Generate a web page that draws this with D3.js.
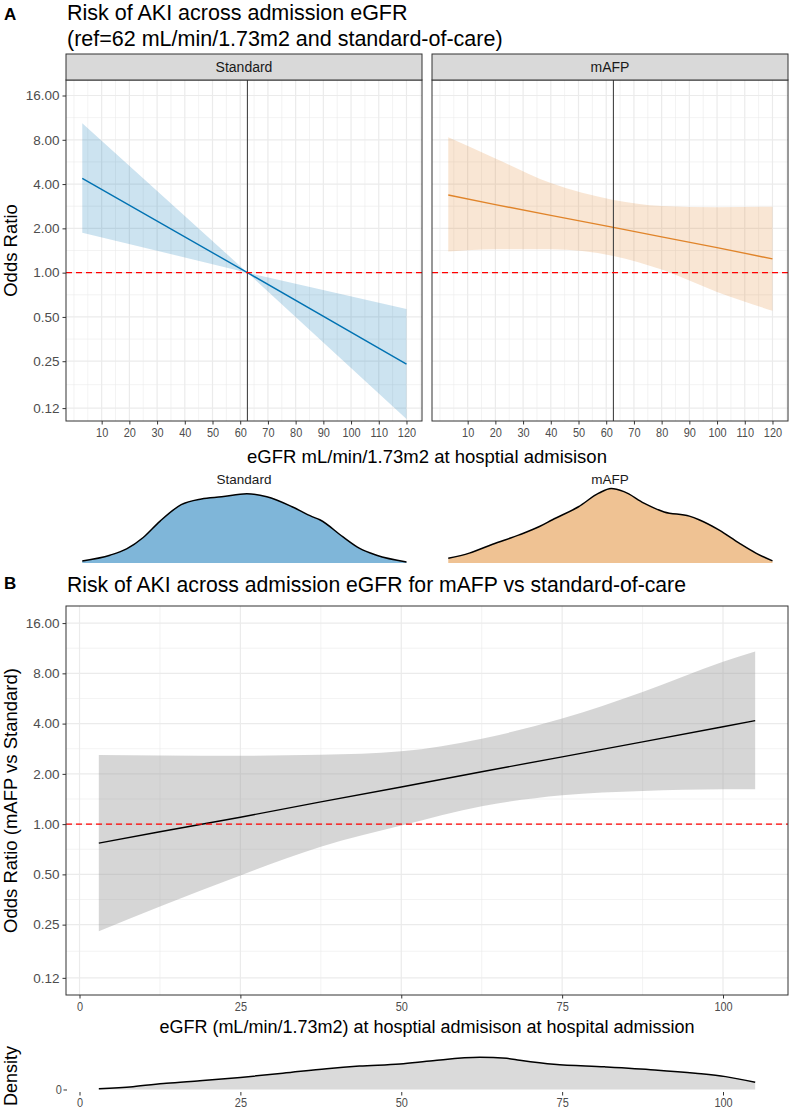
<!DOCTYPE html>
<html>
<head>
<meta charset="utf-8">
<script src="https://cdn.jsdelivr.net/npm/d3@7"></script>
<style>
body{margin:0;background:#fff;}
svg text{font-family:"Liberation Sans",Arial,Helvetica,sans-serif;}
</style>
</head>
<body>
<svg id="fig" width="790" height="1111"></svg>
<script>
// ---- data ----
var orBreaks = [0.12, 0.25, 0.5, 1, 2, 4, 8, 16];
var egfrBreaksA = [10,20,30,40,50,60,70,80,90,100,110,120];
var egfrBreaksB = [0,25,50,75,100];
var refEGFR = 62.6;

// A, standard of care (ref at 62)
var stdX  = [3, 62.6, 120];
var stdOR = [4.38, 1, 0.239];
var stdLo = [1.87, 1, 0.101];
var stdHi = [10.36, 1, 0.565];

// A, mAFP
var mafpX  = [3, 20, 40, 62.6, 80, 100, 120];
var mafpOR = [3.37, 2.90, 2.45, 2.03, 1.75, 1.48, 1.24];
var mafpLo = [1.39, 1.44, 1.44, 1.30, 1.05, 0.74, 0.55];
var mafpHi = [8.32, 5.98, 4.06, 3.12, 2.84, 2.78, 2.81];

// A, densities of eGFR
var stdDensX = [3, 13, 19, 25, 31, 38.7, 46, 53.3, 62.4, 69.6, 78.7, 85.9, 88.7, 97.1, 103.1, 109.2, 120];
var stdDens  = [0.0004, 0.0015, 0.0027, 0.0049, 0.0080, 0.0112, 0.0123, 0.0127, 0.0133, 0.0127, 0.0108, 0.0089, 0.0083, 0.0050, 0.0028, 0.0015, 0.0002];
var mafpDensX = [3, 10.6, 19, 28.6, 35.9, 40.6, 50, 57.3, 61.8, 66.4, 73.6, 80.9, 90, 93.5, 100.8, 108, 114, 120];
var mafpDens  = [0.0009, 0.0019, 0.0036, 0.0054, 0.0070, 0.0083, 0.0108, 0.0134, 0.0143, 0.0137, 0.0115, 0.0098, 0.0090, 0.0083, 0.0063, 0.0038, 0.0019, 0.0004];

// B, mAFP vs standard
var bX  = [3, 12.5, 25, 37.5, 50, 62.5, 75, 87.5, 100, 105];
var bOR = [0.77, 0.90, 1.10, 1.36, 1.67, 2.06, 2.53, 3.11, 3.83, 4.17];
var bLo = [0.228, 0.321, 0.493, 0.732, 0.98, 1.28, 1.49, 1.58, 1.62, 1.62];
var bHi = [2.59, 2.58, 2.57, 2.60, 2.73, 3.25, 4.29, 6.19, 9.38, 10.8];

// B, density of eGFR
var bDensX = [3, 8.3, 13.5, 18.7, 25, 31.6, 38.4, 43.5, 49.8, 54.9, 62.2, 66.4, 68.4, 73.7, 81.6, 89.4, 95.7, 100.4, 105];
var bDens  = [0.0003, 0.0011, 0.0024, 0.0034, 0.0047, 0.0063, 0.0081, 0.0091, 0.0099, 0.0112, 0.0125, 0.0121, 0.0114, 0.0098, 0.0088, 0.0076, 0.0063, 0.0050, 0.0028];

var blue = "#0072B2", orange = "#E0842A";
var gridCol = "#ebebeb", borderCol = "#333333", axisTxt = "#4d4d4d";

var svg = d3.select("#fig");

function rows(xs){
  var cols = Array.prototype.slice.call(arguments, 1);
  return xs.map(function(x, i){ return {x: x, v: cols.map(function(c){ return c[i]; })}; });
}

function logMinors(br){
  var out = [];
  for (var i = 1; i < br.length; i++) out.push(Math.sqrt(br[i-1]*br[i]));
  return out;
}

function grid(g, x, y, xMaj, xMin, x0, x1, y0, y1){
  var yMin = logMinors(orBreaks);
  g.selectAll(".gym").data(yMin).enter().append("line")
    .attr("x1", x0).attr("x2", x1).attr("y1", y).attr("y2", y)
    .attr("stroke", gridCol).attr("stroke-width", 0.6);
  g.selectAll(".gxm").data(xMin.filter(function(d){ var p = x(d); return p > x0 && p < x1; })).enter().append("line")
    .attr("y1", y0).attr("y2", y1).attr("x1", x).attr("x2", x)
    .attr("stroke", gridCol).attr("stroke-width", 0.6);
  g.selectAll(".gyM").data(orBreaks).enter().append("line")
    .attr("x1", x0).attr("x2", x1).attr("y1", y).attr("y2", y)
    .attr("stroke", gridCol).attr("stroke-width", 1.2);
  g.selectAll(".gxM").data(xMaj).enter().append("line")
    .attr("y1", y0).attr("y2", y1).attr("x1", x).attr("x2", x)
    .attr("stroke", gridCol).attr("stroke-width", 1.2);
}

function styleAxis(a, narrow){
  a.attr("font-size", 13.5).attr("font-family", null);
  a.select(".domain").remove();
  a.selectAll(".tick line").attr("stroke", borderCol);
  a.selectAll(".tick text").attr("fill", axisTxt).style("font-size", "13.5px");
  if (narrow) a.selectAll(".tick text").attr("transform", "scale(0.81,1)");
}

// ---- titles ----
svg.append("text").attr("x", 4).attr("y", 20).style("font-size", "17px").style("font-weight", "bold").text("A");
svg.append("text").attr("x", 67).attr("y", 20).style("font-size", "21.5px").attr("fill", "#000")
  .text("Risk of AKI across admission eGFR");
svg.append("text").attr("x", 67).attr("y", 45.5).style("font-size", "21.5px").attr("fill", "#000")
  .text("(ref=62 mL/min/1.73m2 and standard-of-care)");

// ---- panel A ----
var aTop = 80, aBot = 421;
var yA = d3.scaleLog().base(2).domain([Math.pow(2, -3.35), Math.pow(2, 4.35)]).range([aBot, aTop]);
var xMinorA = [0,5,15,25,35,45,55,65,75,85,95,105,115,125];

var facets = [
  {name: "Standard", x0: 66, x1: 422, line: blue, data: rows(stdX, stdOR, stdLo, stdHi), curve: d3.curveLinear,
   dens: rows(stdDensX, stdDens), densFill: "#7fb6d9"},
  {name: "mAFP", x0: 432, x1: 788, line: orange, data: rows(mafpX, mafpOR, mafpLo, mafpHi), curve: d3.curveMonotoneX,
   dens: rows(mafpDensX, mafpDens), densFill: "#efc293"}
];

var yDens = d3.scaleLinear().domain([0, 0.0143]).range([563, 488.5]);

facets.forEach(function(f, i){
  var x = d3.scaleLinear().domain([-2.87, 125.6]).range([f.x0, f.x1]);
  var g = svg.append("g");
  g.append("rect").attr("x", f.x0).attr("y", aTop).attr("width", f.x1 - f.x0).attr("height", aBot - aTop).attr("fill", "#fff");
  grid(g, x, yA, egfrBreaksA, xMinorA, f.x0, f.x1, aTop, aBot);

  var area = d3.area().curve(f.curve)
    .x(function(d){ return x(d.x); })
    .y0(function(d){ return yA(d.v[1]); })
    .y1(function(d){ return yA(d.v[2]); });
  g.append("path").datum(f.data).attr("d", area).attr("fill", f.line).attr("fill-opacity", 0.2);

  var line = d3.line().x(function(d){ return x(d.x); }).y(function(d){ return yA(d.v[0]); });
  g.append("path").datum(f.data).attr("d", line).attr("fill", "none").attr("stroke", f.line).attr("stroke-width", 1.4);

  g.append("line").attr("x1", x(refEGFR)).attr("x2", x(refEGFR)).attr("y1", aTop).attr("y2", aBot)
    .attr("stroke", "#444").attr("stroke-width", 1.1);
  g.append("line").attr("x1", f.x0).attr("x2", f.x1).attr("y1", yA(1)).attr("y2", yA(1))
    .attr("stroke", "#ff0000").attr("stroke-width", 1.3).attr("stroke-dasharray", "6,4");

  g.append("rect").attr("x", f.x0).attr("y", aTop).attr("width", f.x1 - f.x0).attr("height", aBot - aTop)
    .attr("fill", "none").attr("stroke", borderCol).attr("stroke-width", 1);

  // strip
  g.append("rect").attr("x", f.x0).attr("y", 54).attr("width", f.x1 - f.x0).attr("height", 26)
    .attr("fill", "#d9d9d9").attr("stroke", borderCol).attr("stroke-width", 1);
  g.append("text").attr("x", (f.x0 + f.x1) / 2).attr("y", 72).attr("text-anchor", "middle")
    .style("font-size", "14px").attr("fill", "#1a1a1a").text(f.name);

  var ax = g.append("g").attr("transform", "translate(0," + aBot + ")")
    .call(d3.axisBottom(x).tickValues(egfrBreaksA).tickSize(3.5).tickPadding(3));
  styleAxis(ax, true);

  if (i === 0) {
    var ay = g.append("g").attr("transform", "translate(" + f.x0 + ",0)")
      .call(d3.axisLeft(yA).tickValues(orBreaks).tickFormat(d3.format(".2f")).tickSize(3.5).tickPadding(3));
    styleAxis(ay, false);
  }

  // density under facet
  var dArea = d3.area().curve(d3.curveMonotoneX)
    .x(function(d){ return x(d.x); }).y0(yDens(0)).y1(function(d){ return yDens(d.v[0]); });
  var dLine = d3.line().curve(d3.curveMonotoneX)
    .x(function(d){ return x(d.x); }).y(function(d){ return yDens(d.v[0]); });
  g.append("path").datum(f.dens).attr("d", dArea).attr("fill", f.densFill);
  g.append("path").datum(f.dens).attr("d", dLine).attr("fill", "none").attr("stroke", "#000").attr("stroke-width", 1.5);
  g.append("text").attr("x", (f.x0 + f.x1) / 2).attr("y", 484).attr("text-anchor", "middle")
    .style("font-size", "13.5px").attr("fill", "#1a1a1a")
    .text(f.name);
});

svg.append("text").attr("transform", "translate(17," + (aTop + aBot) / 2 + ") rotate(-90)")
  .attr("text-anchor", "middle").style("font-size", "18.5px").text("Odds Ratio");
svg.append("text").attr("x", 427).attr("y", 462.5).attr("text-anchor", "middle").style("font-size", "18.5px")
  .text("eGFR mL/min/1.73m2 at hosptial admisison");

// ---- panel B ----
svg.append("text").attr("x", 4).attr("y", 589).style("font-size", "17px").style("font-weight", "bold").text("B");
svg.append("text").attr("x", 67).attr("y", 592).style("font-size", "21.2px")
  .text("Risk of AKI across admission eGFR for mAFP vs standard-of-care");

var bTop = 606, bBot = 995, bL = 66, bR = 788;
var xB = d3.scaleLinear().domain([-2.1, 110.1]).range([bL, bR]);
var yB = d3.scaleLog().base(2).domain([Math.pow(2, -3.40), Math.pow(2, 4.34)]).range([bBot, bTop]);
var gB = svg.append("g");
gB.append("rect").attr("x", bL).attr("y", bTop).attr("width", bR - bL).attr("height", bBot - bTop).attr("fill", "#fff");
grid(gB, xB, yB, egfrBreaksB, [-12.5, 12.5, 37.5, 62.5, 87.5, 112.5], bL, bR, bTop, bBot);

var bRows = rows(bX, bOR, bLo, bHi);
gB.append("path").datum(bRows)
  .attr("d", d3.area().curve(d3.curveMonotoneX)
    .x(function(d){ return xB(d.x); })
    .y0(function(d){ return yB(d.v[1]); })
    .y1(function(d){ return yB(d.v[2]); }))
  .attr("fill", "#999999").attr("fill-opacity", 0.4);
gB.append("path").datum(bRows)
  .attr("d", d3.line().x(function(d){ return xB(d.x); }).y(function(d){ return yB(d.v[0]); }))
  .attr("fill", "none").attr("stroke", "#000").attr("stroke-width", 1.4);
gB.append("line").attr("x1", bL).attr("x2", bR).attr("y1", yB(1)).attr("y2", yB(1))
  .attr("stroke", "#ff0000").attr("stroke-width", 1.3).attr("stroke-dasharray", "6,4");
gB.append("rect").attr("x", bL).attr("y", bTop).attr("width", bR - bL).attr("height", bBot - bTop)
  .attr("fill", "none").attr("stroke", borderCol).attr("stroke-width", 1);

var bxAx = gB.append("g").attr("transform", "translate(0," + bBot + ")")
  .call(d3.axisBottom(xB).tickValues(egfrBreaksB).tickSize(3.5).tickPadding(3));
styleAxis(bxAx, true);
var byAx = gB.append("g").attr("transform", "translate(" + bL + ",0)")
  .call(d3.axisLeft(yB).tickValues(orBreaks).tickFormat(d3.format(".2f")).tickSize(3.5).tickPadding(3));
styleAxis(byAx, false);

svg.append("text").attr("transform", "translate(17," + (bTop + bBot) / 2 + ") rotate(-90)")
  .attr("text-anchor", "middle").style("font-size", "18.5px").text("Odds Ratio (mAFP vs Standard)");
svg.append("text").attr("x", 427).attr("y", 1032.5).attr("text-anchor", "middle").style("font-size", "18px")
  .text("eGFR (mL/min/1.73m2) at hosptial admisison at hospital admission");

// ---- density under B ----
var yBD = d3.scaleLinear().domain([-0.000625, 0.01375]).range([1091.1, 1054.1]);
var bdRows = rows(bDensX, bDens);
var gD = svg.append("g");
gD.append("path").datum(bdRows)
  .attr("d", d3.area().curve(d3.curveMonotoneX).x(function(d){ return xB(d.x); }).y0(yBD(0)).y1(function(d){ return yBD(d.v[0]); }))
  .attr("fill", "#dadada");
gD.append("path").datum(bdRows)
  .attr("d", d3.line().curve(d3.curveMonotoneX).x(function(d){ return xB(d.x); }).y(function(d){ return yBD(d.v[0]); }))
  .attr("fill", "none").attr("stroke", "#000").attr("stroke-width", 1.5);
var dxAx = gD.append("g").attr("transform", "translate(0,1092)")
  .call(d3.axisBottom(xB).tickValues(egfrBreaksB).tickSize(3.5).tickPadding(2));
styleAxis(dxAx, true);
var dyAx = gD.append("g").attr("transform", "translate(67,0)")
  .call(d3.axisLeft(yBD).tickValues([0]).tickFormat(d3.format("d")).tickSize(3.5).tickPadding(3));
styleAxis(dyAx, true);
svg.append("text").attr("transform", "translate(17,1076) rotate(-90)")
  .attr("text-anchor", "middle").style("font-size", "18px").text("Density");
</script>
</body>
</html>
